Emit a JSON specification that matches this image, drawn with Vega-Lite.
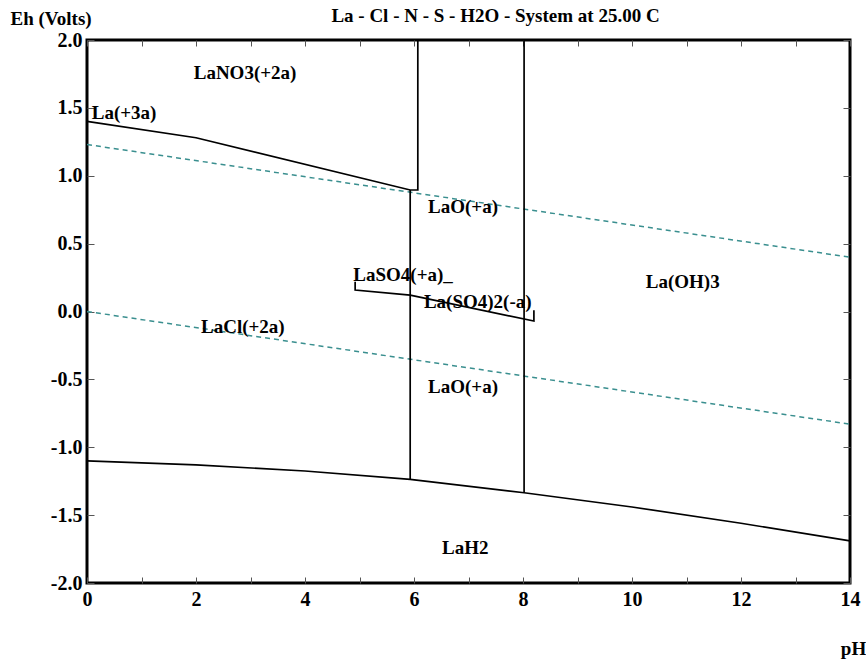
{
  "$schema": "https://vega.github.io/schema/vega-lite/v6.json",
  "width": 763,
  "height": 543,
  "autosize": {"type": "none"},
  "padding": {"left": 87, "top": 40, "right": 16, "bottom": 77},
  "background": "white",
  "config": {
    "view": {"stroke": "black", "strokeWidth": 3},
    "axis": {
      "grid": false,
      "domain": false,
      "tickColor": "#555555",
      "tickWidth": 1,
      "labelFont": "Liberation Serif",
      "labelFontWeight": "bold",
      "labelFontSize": 20,
      "labelColor": "black",
      "titleFont": "Liberation Serif",
      "titleFontWeight": "bold",
      "titleFontSize": 19,
      "titleColor": "black",
      "labelFlush": false,
      "labelOverlap": false
    }
  },
  "title": {
    "text": "La - Cl - N - S - H2O - System at 25.00 C",
    "font": "Liberation Serif",
    "fontWeight": "bold",
    "fontSize": 19,
    "color": "black",
    "anchor": "middle",
    "baseline": "middle",
    "dx": 27,
    "offset": -26
  },
  "datasets": {
    "water": [
      {"line": "upper", "pH": 0, "Eh": 1.23},
      {"line": "upper", "pH": 14, "Eh": 0.40},
      {"line": "lower", "pH": 0, "Eh": 0.0},
      {"line": "lower", "pH": 14, "Eh": -0.83}
    ],
    "bounds": [
      {"seg": "A", "ord": 1, "pH": 0, "Eh": 1.40},
      {"seg": "A", "ord": 2, "pH": 2.0, "Eh": 1.28},
      {"seg": "A", "ord": 3, "pH": 5.93, "Eh": 0.895},
      {"seg": "A", "ord": 4, "pH": 6.07, "Eh": 0.895},
      {"seg": "A", "ord": 5, "pH": 6.07, "Eh": 2.0},
      {"seg": "B", "ord": 1, "pH": 5.93, "Eh": 0.895},
      {"seg": "B", "ord": 2, "pH": 5.93, "Eh": -1.236},
      {"seg": "C", "ord": 1, "pH": 8.02, "Eh": 2.0},
      {"seg": "C", "ord": 2, "pH": 8.02, "Eh": -1.335},
      {"seg": "D", "ord": 1, "pH": 4.92, "Eh": 0.22},
      {"seg": "D", "ord": 2, "pH": 4.92, "Eh": 0.158},
      {"seg": "D", "ord": 3, "pH": 5.93, "Eh": 0.12},
      {"seg": "D", "ord": 4, "pH": 8.20, "Eh": -0.07},
      {"seg": "D", "ord": 5, "pH": 8.20, "Eh": 0.01},
      {"seg": "E", "ord": 1, "pH": 0, "Eh": -1.10},
      {"seg": "E", "ord": 2, "pH": 2, "Eh": -1.13},
      {"seg": "E", "ord": 3, "pH": 4, "Eh": -1.175},
      {"seg": "E", "ord": 4, "pH": 5.93, "Eh": -1.236},
      {"seg": "E", "ord": 5, "pH": 8.02, "Eh": -1.335},
      {"seg": "E", "ord": 6, "pH": 10, "Eh": -1.44},
      {"seg": "E", "ord": 7, "pH": 12, "Eh": -1.56},
      {"seg": "E", "ord": 8, "pH": 14, "Eh": -1.69}
    ],
    "labels": [
      {"label": "LaNO3(+2a)", "pH": 2.90, "Eh": 1.755},
      {"label": "La(+3a)", "pH": 0.68, "Eh": 1.46},
      {"label": "LaO(+a)", "pH": 6.90, "Eh": 0.772},
      {"label": "LaSO4(+a)_", "pH": 5.80, "Eh": 0.269},
      {"label": "La(SO4)2(-a)", "pH": 7.17, "Eh": 0.072},
      {"label": "La(OH)3", "pH": 10.93, "Eh": 0.22},
      {"label": "LaCl(+2a)", "pH": 2.86, "Eh": -0.117},
      {"label": "LaO(+a)", "pH": 6.90, "Eh": -0.553},
      {"label": "LaH2", "pH": 6.94, "Eh": -1.742}
    ]
  },
  "layer": [
    {
      "data": {"name": "water"},
      "mark": {"type": "line", "color": "#3a8f8f", "strokeDash": [5, 4], "strokeWidth": 1.5},
      "encoding": {
        "x": {
          "field": "pH", "type": "quantitative",
          "scale": {"domain": [0, 14], "nice": false, "zero": false},
          "axis": {
            "orient": "bottom",
            "values": [0,1,2,3,4,5,6,7,8,9,10,11,12,13,14],
            "tickSize": -6,
            "labelPadding": 12,
            "labelExpr": "datum.value % 2 === 0 ? format(datum.value, 'd') : ''",
            "title": "pH",
            "titleAngle": 0,
            "titleX": 766,
            "titleY": 65,
            "titleAlign": "center",
            "titleBaseline": "middle"
          }
        },
        "y": {
          "field": "Eh", "type": "quantitative",
          "scale": {"domain": [-2, 2], "nice": false, "zero": false},
          "axis": {
            "orient": "left",
            "values": [-2, -1.5, -1, -0.5, 0, 0.5, 1, 1.5, 2],
            "tickSize": -7,
            "labelPadding": 12,
            "labelExpr": "(datum.value < 0 ? '-' : '') + format(abs(datum.value), '.1f')",
            "title": "Eh (Volts)",
            "titleAngle": 0,
            "titleX": -77,
            "titleY": -22,
            "titleAlign": "left",
            "titleBaseline": "middle"
          }
        },
        "detail": {"field": "line"}
      }
    },
    {
      "data": {"name": "bounds"},
      "mark": {"type": "line", "color": "black", "strokeWidth": 1.7},
      "encoding": {
        "x": {
          "field": "pH", "type": "quantitative",
          "scale": {"domain": [0, 14], "nice": false, "zero": false},
          "axis": {
            "orient": "top",
            "values": [0,1,2,3,4,5,6,7,8,9,10,11,12,13,14],
            "tickSize": -6,
            "labels": false,
            "title": null
          }
        },
        "y": {
          "field": "Eh", "type": "quantitative",
          "scale": {"domain": [-2, 2], "nice": false, "zero": false},
          "axis": {
            "orient": "right",
            "values": [-2, -1.5, -1, -0.5, 0, 0.5, 1, 1.5, 2],
            "tickSize": -7,
            "labels": false,
            "title": null
          }
        },
        "detail": {"field": "seg"},
        "order": {"field": "ord", "type": "quantitative"}
      }
    },
    {
      "data": {"name": "labels"},
      "mark": {"type": "text", "font": "Liberation Serif", "fontWeight": "bold", "fontSize": 19, "color": "black", "align": "center", "baseline": "middle"},
      "encoding": {
        "x": {"field": "pH", "type": "quantitative", "scale": {"domain": [0, 14], "nice": false, "zero": false}, "axis": null},
        "y": {"field": "Eh", "type": "quantitative", "scale": {"domain": [-2, 2], "nice": false, "zero": false}, "axis": null},
        "text": {"field": "label"}
      }
    }
  ],
  "resolve": {"axis": {"x": "independent", "y": "independent"}}
}
